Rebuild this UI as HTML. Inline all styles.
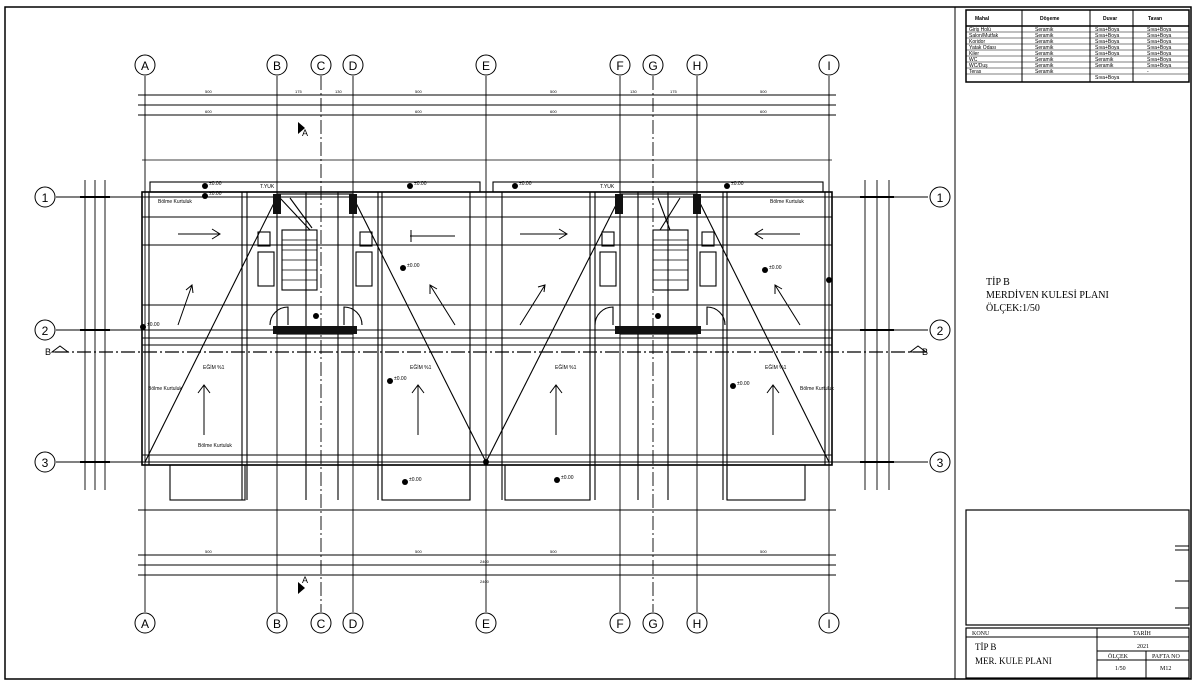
<!DOCTYPE html>
<html><head><meta charset="utf-8"><style>
html,body{margin:0;padding:0;background:#fff;}
svg{display:block;font-family:"Liberation Sans",sans-serif;}
</style></head><body>
<svg width="1200" height="683" viewBox="0 0 1200 683" xmlns="http://www.w3.org/2000/svg">
<rect x="0" y="0" width="1200" height="683" fill="#fff"/>
<rect x="5" y="7" width="1186" height="672" fill="none" stroke="#000" stroke-width="1.5"/>
<line x1="955" y1="7" x2="955" y2="679" stroke="#000" stroke-width="1"/>
<g stroke="#000" fill="none">
<rect x="966" y="10" width="223" height="72" stroke-width="1.5"/>
<line x1="966" y1="26" x2="1189" y2="26" stroke-width="1.5"/>
<line x1="1022" y1="10" x2="1022" y2="82"/><line x1="1090" y1="10" x2="1090" y2="82"/><line x1="1133" y1="10" x2="1133" y2="82"/>
<line x1="966" y1="32" x2="1189" y2="32" stroke-width=".6"/><line x1="966" y1="38" x2="1189" y2="38" stroke-width=".6"/>
<line x1="966" y1="44" x2="1189" y2="44" stroke-width=".6"/><line x1="966" y1="50" x2="1189" y2="50" stroke-width=".6"/>
<line x1="966" y1="56" x2="1189" y2="56" stroke-width=".6"/><line x1="966" y1="62" x2="1189" y2="62" stroke-width=".6"/>
<line x1="966" y1="68" x2="1189" y2="68" stroke-width=".6"/><line x1="966" y1="74" x2="1189" y2="74" stroke-width=".6"/>
</g>
<g font-size="5" fill="#000">
<text x="975" y="20" font-weight="bold">Mahal</text><text x="1040" y="20" font-weight="bold">Döşeme</text><text x="1103" y="20" font-weight="bold">Duvar</text><text x="1148" y="20" font-weight="bold">Tavan</text>
<text x="969" y="31">Giriş Holü</text><text x="1035" y="31">Seramik</text><text x="1095" y="31">Sıva+Boya</text><text x="1147" y="31">Sıva+Boya</text>
<text x="969" y="37">Salon/Mutfak</text><text x="1035" y="37">Seramik</text><text x="1095" y="37">Sıva+Boya</text><text x="1147" y="37">Sıva+Boya</text>
<text x="969" y="43">Koridor</text><text x="1035" y="43">Seramik</text><text x="1095" y="43">Sıva+Boya</text><text x="1147" y="43">Sıva+Boya</text>
<text x="969" y="49">Yatak Odası</text><text x="1035" y="49">Seramik</text><text x="1095" y="49">Sıva+Boya</text><text x="1147" y="49">Sıva+Boya</text>
<text x="969" y="55">Kiler</text><text x="1035" y="55">Seramik</text><text x="1095" y="55">Sıva+Boya</text><text x="1147" y="55">Sıva+Boya</text>
<text x="969" y="61">WC</text><text x="1035" y="61">Seramik</text><text x="1095" y="61">Seramik</text><text x="1147" y="61">Sıva+Boya</text>
<text x="969" y="67">WC/Duş</text><text x="1035" y="67">Seramik</text><text x="1095" y="67">Seramik</text><text x="1147" y="67">Sıva+Boya</text>
<text x="969" y="73">Teras</text><text x="1035" y="73">Seramik</text><text x="1095" y="79">Sıva+Boya</text><text x="1147" y="73">-</text>
</g>
<g font-size="10" fill="#000" font-family="Liberation Serif,serif">
<text x="986" y="285">TİP B</text>
<text x="986" y="298">MERDİVEN KULESİ PLANI</text>
<text x="986" y="311">ÖLÇEK:1/50</text>
</g>
<g stroke="#000" fill="none">
<rect x="966" y="510" width="223" height="115" stroke-width="1.2"/>
<line x1="1175" y1="546" x2="1189" y2="546"/><line x1="1175" y1="550" x2="1189" y2="550"/>
<line x1="1175" y1="581" x2="1189" y2="581"/><line x1="1175" y1="608" x2="1189" y2="608"/>
<rect x="966" y="628" width="223" height="50" stroke-width="1.2"/>
<line x1="966" y1="637" x2="1189" y2="637"/>
<line x1="1097" y1="628" x2="1097" y2="678"/>
<line x1="1097" y1="651" x2="1189" y2="651"/>
<line x1="1097" y1="660" x2="1189" y2="660"/>
<line x1="1146" y1="651" x2="1146" y2="678"/>
</g>
<g font-family="Liberation Serif,serif" fill="#000">
<text x="972" y="635" font-size="6">KONU</text>
<text x="1133" y="635" font-size="6">TARİH</text>
<text x="1137" y="648" font-size="6">2021</text>
<text x="1108" y="658" font-size="6">ÖLÇEK</text><text x="1152" y="658" font-size="6">PAFTA NO</text>
<text x="1115" y="670" font-size="6">1/50</text><text x="1160" y="670" font-size="6">M12</text>
<text x="975" y="650" font-size="9">TİP B</text>
<text x="975" y="664" font-size="9">MER. KULE PLANI</text>
</g>

<g stroke="#000" stroke-width=".9" fill="none">
<line x1="145" y1="76" x2="145" y2="612"/><line x1="277" y1="76" x2="277" y2="612"/><line x1="321" y1="76" x2="321" y2="612" stroke-dasharray="14 3 2 3"/>
<line x1="353" y1="76" x2="353" y2="612"/><line x1="486" y1="76" x2="486" y2="612"/><line x1="620" y1="76" x2="620" y2="612"/>
<line x1="653" y1="76" x2="653" y2="612" stroke-dasharray="14 3 2 3"/><line x1="697" y1="76" x2="697" y2="612"/><line x1="829" y1="76" x2="829" y2="612"/>
<line x1="56" y1="197" x2="928" y2="197"/><line x1="56" y1="330" x2="928" y2="330"/><line x1="56" y1="462" x2="928" y2="462"/>
<line x1="55" y1="352" x2="930" y2="352" stroke-dasharray="14 3 2 3" stroke-width="1.2"/>
</g>
<g stroke="#000" stroke-width="1" fill="#fff">
<circle cx="145" cy="65" r="10"/><circle cx="277" cy="65" r="10"/><circle cx="321" cy="65" r="10"/><circle cx="353" cy="65" r="10"/><circle cx="486" cy="65" r="10"/><circle cx="620" cy="65" r="10"/><circle cx="653" cy="65" r="10"/><circle cx="697" cy="65" r="10"/><circle cx="829" cy="65" r="10"/>
<circle cx="145" cy="623" r="10"/><circle cx="277" cy="623" r="10"/><circle cx="321" cy="623" r="10"/><circle cx="353" cy="623" r="10"/><circle cx="486" cy="623" r="10"/><circle cx="620" cy="623" r="10"/><circle cx="653" cy="623" r="10"/><circle cx="697" cy="623" r="10"/><circle cx="829" cy="623" r="10"/>
<circle cx="45" cy="197" r="10"/><circle cx="45" cy="330" r="10"/><circle cx="45" cy="462" r="10"/>
<circle cx="940" cy="197" r="10"/><circle cx="940" cy="330" r="10"/><circle cx="940" cy="462" r="10"/>
</g>
<g font-size="12" fill="#000" text-anchor="middle">
<text x="145" y="70">A</text><text x="277" y="70">B</text><text x="321" y="70">C</text><text x="353" y="70">D</text><text x="486" y="70">E</text><text x="620" y="70">F</text><text x="653" y="70">G</text><text x="697" y="70">H</text><text x="829" y="70">I</text>
<text x="145" y="628">A</text><text x="277" y="628">B</text><text x="321" y="628">C</text><text x="353" y="628">D</text><text x="486" y="628">E</text><text x="620" y="628">F</text><text x="653" y="628">G</text><text x="697" y="628">H</text><text x="829" y="628">I</text>
<text x="45" y="202">1</text><text x="45" y="335">2</text><text x="45" y="467">3</text>
<text x="940" y="202">1</text><text x="940" y="335">2</text><text x="940" y="467">3</text>
</g>

<g stroke="#000" stroke-width=".9">
<line x1="138" y1="95" x2="836" y2="95"/><line x1="138" y1="105" x2="836" y2="105"/><line x1="138" y1="115" x2="836" y2="115"/>
<line x1="138" y1="555" x2="836" y2="555"/><line x1="138" y1="565" x2="836" y2="565"/><line x1="138" y1="575" x2="836" y2="575"/>
<line x1="138" y1="510" x2="836" y2="510"/>
<line x1="85" y1="180" x2="85" y2="490"/><line x1="95" y1="180" x2="95" y2="490"/><line x1="105" y1="180" x2="105" y2="490"/>
<line x1="865" y1="180" x2="865" y2="490"/><line x1="877" y1="180" x2="877" y2="490"/><line x1="889" y1="180" x2="889" y2="490"/>
<line x1="80" y1="197" x2="110" y2="197" stroke-width="2"/><line x1="80" y1="330" x2="110" y2="330" stroke-width="2"/><line x1="80" y1="462" x2="110" y2="462" stroke-width="2"/>
<line x1="860" y1="197" x2="894" y2="197" stroke-width="2"/><line x1="860" y1="330" x2="894" y2="330" stroke-width="2"/><line x1="860" y1="462" x2="894" y2="462" stroke-width="2"/>
</g>
<g font-size="4" fill="#000">
<text x="205" y="93">500</text><text x="295" y="93">175</text><text x="335" y="93">130</text><text x="415" y="93">500</text><text x="550" y="93">500</text><text x="630" y="93">130</text><text x="670" y="93">175</text><text x="760" y="93">500</text>
<text x="205" y="113">600</text><text x="415" y="113">600</text><text x="550" y="113">600</text><text x="760" y="113">600</text>
<text x="205" y="553">500</text><text x="415" y="553">500</text><text x="550" y="553">500</text><text x="760" y="553">500</text>
<text x="480" y="563">2400</text><text x="480" y="583">2400</text>
</g>

<g stroke="#000" fill="none" stroke-width="1.1">
<line x1="142" y1="160" x2="832" y2="160" stroke-width=".8"/>
<rect x="150" y="182" width="330" height="10"/>
<rect x="493" y="182" width="330" height="10"/>
<rect x="142" y="192" width="690" height="273" stroke-width="1.6"/>
<line x1="142" y1="217" x2="832" y2="217"/><line x1="142" y1="245" x2="832" y2="245"/>
<line x1="142" y1="305" x2="832" y2="305"/><line x1="142" y1="338" x2="832" y2="338"/><line x1="142" y1="345" x2="832" y2="345"/>
<line x1="142" y1="455" x2="832" y2="455"/>
<line x1="149" y1="192" x2="149" y2="465"/><line x1="825" y1="192" x2="825" y2="465"/>
<line x1="242" y1="192" x2="242" y2="500"/><line x1="247" y1="192" x2="247" y2="500"/>
<line x1="378" y1="192" x2="378" y2="500"/><line x1="382" y1="192" x2="382" y2="500"/>
<line x1="590" y1="192" x2="590" y2="500"/><line x1="595" y1="192" x2="595" y2="500"/>
<line x1="723" y1="192" x2="723" y2="500"/><line x1="727" y1="192" x2="727" y2="500"/>
<line x1="470" y1="192" x2="470" y2="500"/><line x1="502" y1="192" x2="502" y2="500"/>
<line x1="306" y1="192" x2="306" y2="500"/><line x1="338" y1="192" x2="338" y2="500"/>
<line x1="638" y1="192" x2="638" y2="500"/><line x1="668" y1="192" x2="668" y2="500"/>
<rect x="170" y="465" width="75" height="35"/><rect x="382" y="465" width="88" height="35"/>
<rect x="505" y="465" width="85" height="35"/><rect x="727" y="465" width="78" height="35"/>
<line x1="277" y1="197" x2="145" y2="462"/><line x1="353" y1="197" x2="486" y2="462"/>
<line x1="620" y1="197" x2="486" y2="462"/><line x1="697" y1="197" x2="829" y2="462"/>
<rect x="277" y="194" width="76" height="140"/>
<rect x="620" y="194" width="77" height="140"/>
<rect x="282" y="230" width="35" height="60"/><rect x="653" y="230" width="35" height="60"/>
<rect x="258" y="252" width="16" height="34"/><rect x="356" y="252" width="16" height="34"/>
<rect x="600" y="252" width="16" height="34"/><rect x="700" y="252" width="16" height="34"/>
<rect x="258" y="232" width="12" height="14"/><rect x="360" y="232" width="12" height="14"/>
<rect x="602" y="232" width="12" height="14"/><rect x="702" y="232" width="12" height="14"/>
<path d="M270 325 A18 18 0 0 1 288 307 L288 325"/><path d="M362 325 A18 18 0 0 0 344 307 L344 325"/>
<path d="M595 325 A18 18 0 0 1 613 307 L613 325"/><path d="M725 325 A18 18 0 0 0 707 307 L707 325"/>
<line x1="280" y1="198" x2="310" y2="230"/><line x1="290" y1="198" x2="312" y2="228"/><line x1="658" y1="198" x2="670" y2="230"/><line x1="680" y1="198" x2="660" y2="230"/>
</g>
<g stroke="#000" stroke-width=".7">
<line x1="282" y1="240" x2="317" y2="240"/><line x1="282" y1="250" x2="317" y2="250"/><line x1="282" y1="260" x2="317" y2="260"/><line x1="282" y1="270" x2="317" y2="270"/><line x1="282" y1="280" x2="317" y2="280"/>
<line x1="653" y1="240" x2="688" y2="240"/><line x1="653" y1="250" x2="688" y2="250"/><line x1="653" y1="260" x2="688" y2="260"/><line x1="653" y1="270" x2="688" y2="270"/><line x1="653" y1="280" x2="688" y2="280"/>
</g>
<g fill="#111">
<rect x="273" y="194" width="8" height="20"/><rect x="349" y="194" width="8" height="20"/>
<rect x="615" y="194" width="8" height="20"/><rect x="693" y="194" width="8" height="20"/>
<rect x="273" y="326" width="84" height="8"/><rect x="615" y="326" width="86" height="8"/>
</g>
<g stroke="#000" fill="none" stroke-width="1">
<path d="M178 234 H220 M212 229 L220 234 L212 239"/>
<path d="M520 234 H567 M559 229 L567 234 L559 239"/>
<path d="M410 236 H455 M411 230 V242"/>
<path d="M755 234 H800 M763 229 L755 234 L763 239"/>
<path d="M178 325 L192 285 M186 290 L192 285 L193 293"/>
<path d="M455 325 L430 285 M430 294 L430 285 L437 289"/>
<path d="M520 325 L545 285 M538 287 L545 285 L544 292"/>
<path d="M800 325 L775 285 M775 294 L775 285 L782 289"/>
<path d="M204 435 V385 M198 393 L204 385 L210 393"/>
<path d="M418 435 V385 M412 393 L418 385 L424 393"/>
<path d="M556 435 V385 M550 393 L556 385 L562 393"/>
<path d="M773 435 V385 M767 393 L773 385 L779 393"/>
</g>
<g font-size="5" fill="#000">
<text x="203" y="369">EĞİM %1</text><text x="410" y="369">EĞİM %1</text><text x="555" y="369">EĞİM %1</text><text x="765" y="369">EĞİM %1</text>
<text x="148" y="390">Bölme Kurtuluk</text><text x="198" y="447">Bölme Kurtuluk</text><text x="800" y="390">Bölme Kurtuluk</text>
<text x="158" y="203">Bölme Kurtuluk</text><text x="770" y="203">Bölme Kurtuluk</text>
<text x="260" y="188">T.YUK</text><text x="600" y="188">T.YUK</text>
</g>
<g fill="#000" font-size="5">
<circle cx="205" cy="186" r="3"/><text x="209" y="185">±0.00</text>
<circle cx="205" cy="196" r="3"/><text x="209" y="195">±0.00</text>
<circle cx="410" cy="186" r="3"/><text x="414" y="185">±0.00</text>
<circle cx="515" cy="186" r="3"/><text x="519" y="185">±0.00</text>
<circle cx="727" cy="186" r="3"/><text x="731" y="185">±0.00</text>
<circle cx="403" cy="268" r="3"/><text x="407" y="267">±0.00</text>
<circle cx="765" cy="270" r="3"/><text x="769" y="269">±0.00</text>
<circle cx="316" cy="316" r="3"/><circle cx="658" cy="316" r="3"/>
<circle cx="390" cy="381" r="3"/><text x="394" y="380">±0.00</text>
<circle cx="733" cy="386" r="3"/><text x="737" y="385">±0.00</text>
<circle cx="405" cy="482" r="3"/><text x="409" y="481">±0.00</text>
<circle cx="557" cy="480" r="3"/><text x="561" y="479">±0.00</text>
<circle cx="143" cy="327" r="3"/><text x="147" y="326">±0.00</text>
<circle cx="829" cy="280" r="3"/><circle cx="486" cy="462" r="3"/>
</g>
<g fill="#000" font-size="9">
<text x="45" y="355">B</text><path d="M52 352 L60 346 L68 352 Z" fill="none" stroke="#000"/>
<text x="922" y="355">B</text><path d="M910 352 L918 346 L926 352 Z" fill="none" stroke="#000"/>
<text x="302" y="136">A</text><path d="M298 122 L305 128 L298 134 Z"/>
<text x="302" y="583">A</text><path d="M298 582 L305 588 L298 594 Z"/>
</g>
</svg>
</body></html>
